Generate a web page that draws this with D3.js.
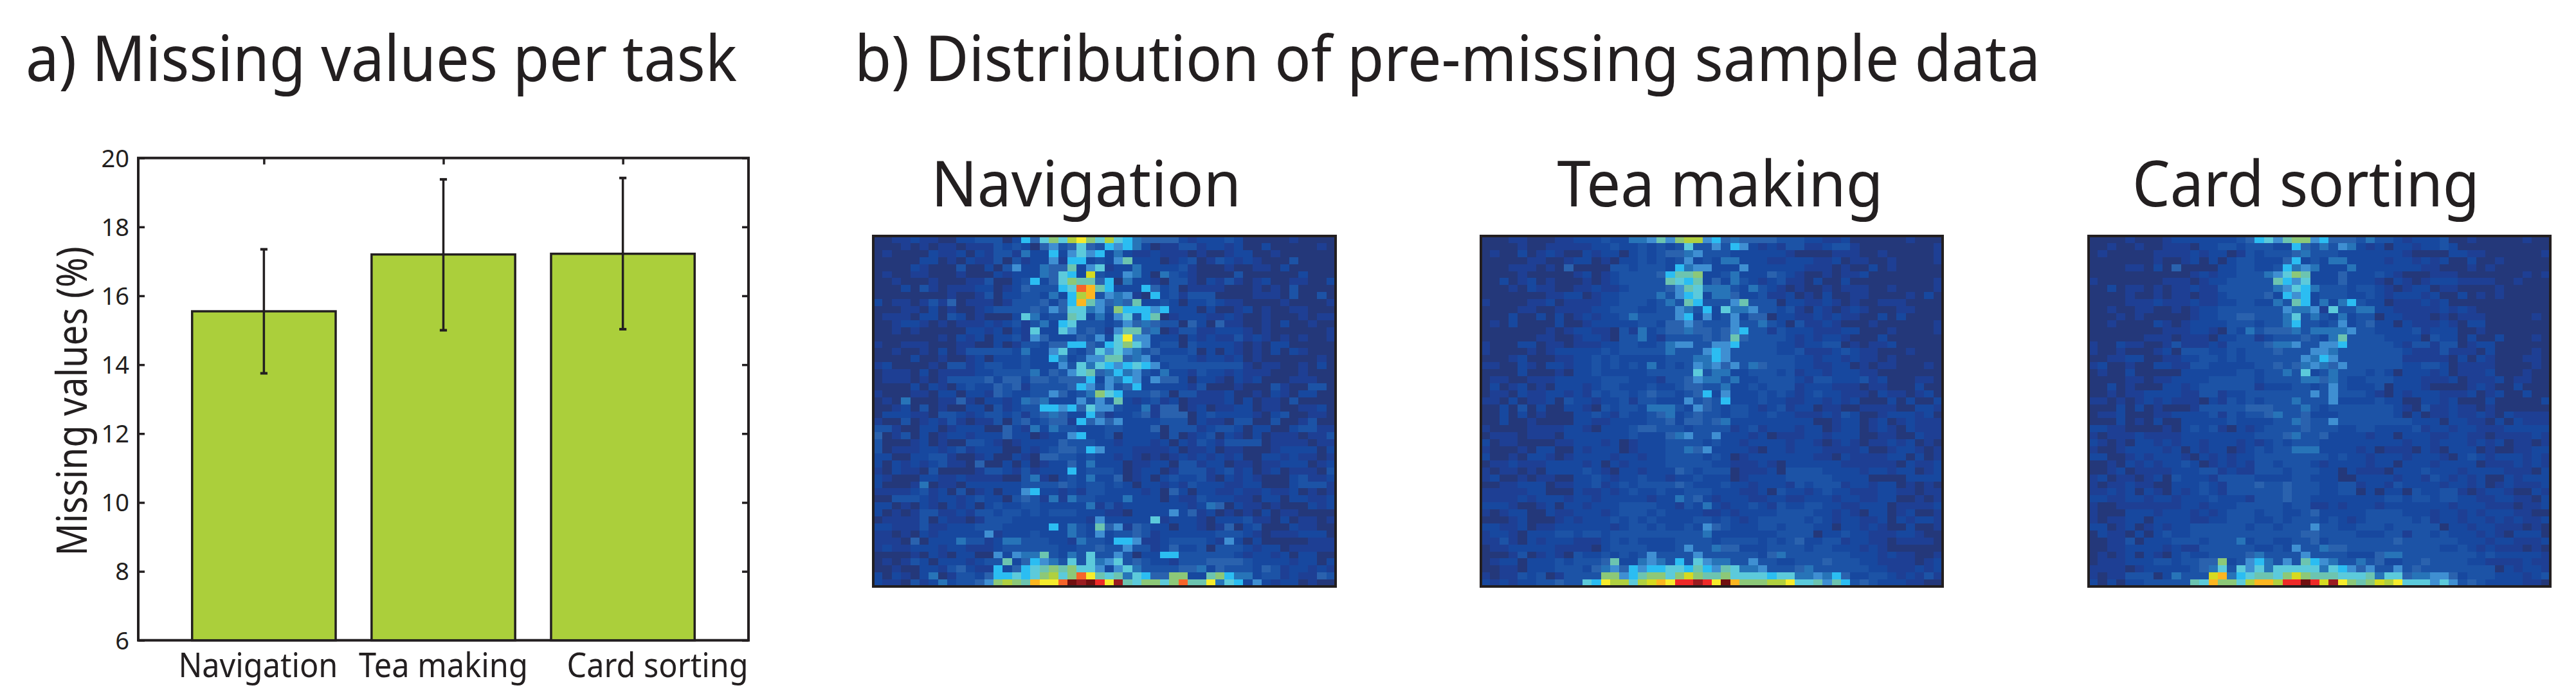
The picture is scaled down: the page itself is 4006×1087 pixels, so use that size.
<!DOCTYPE html>
<html><head><meta charset="utf-8">
<script src="https://cdnjs.cloudflare.com/ajax/libs/d3/7.8.5/d3.min.js"></script>
<style>html,body{margin:0;padding:0;background:#fff}svg{display:block}text{font-family:"Noto Sans","Open Sans",sans-serif;fill:#231f20}</style>
</head><body><svg id="c" width="4006" height="1087"></svg>
<script>
const tasks = ["Navigation","Tea making","Card sorting"];
const missingPct = [15.55,17.2,17.22];
const errLow = [13.75,15.0,15.03];
const errHigh = [17.35,19.38,19.42];
const yTicks = [6,8,10,12,14,16,18,20];
const heatLevels = "0123456789abcdefghi".split("");
const heatColors = ["#24387a","#1e3f94","#17489f","#1c53a6","#2a62ae","#2774b8","#3f8fd2","#2bbdf2","#5ccadb","#6cc4b0","#8cc878","#b0d040","#d6da20","#f6ec2c","#fcb620","#f6642a","#ee2a28","#9a1c20","#701010"];
const navigationGrid = [
"0011211002 233302748a 8bda8b8754 4442122232 0000010000",
"0001010110 1113232046 3484376752 0113312212 0020000010",
"0100002112 0213315227 2686725211 2111010012 2001000000",
"0000022010 2113031226 1772326922 2012301321 2100030000",
"0000210003 0020362254 4926812252 2223100010 0110200000",
"0100110001 0002122254 872c322652 0532100003 0000002000",
"0010001000 1130023724 8a99470522 1033102131 0120011002",
"0002031011 1220124333 78fe972227 4230111100 0101030000",
"0000000010 0130223325 27be365610 7231333000 0111030030",
"2011013140 1110133342 47e9645492 2320223211 0000100001",
"0001102010 0123333436 4885 63a777 6722202001 2010011000",
"0111022032 0100028523 3982526837 9012221121 0010001011",
"0012210101 1121231352 7833323645 4330420411 0010200100",
"0010100000 2212021822 8634316994 5013311222 1010000001",
"0000000102 1202231642 2243628d66 2220212113 1210101001",
"1001110001 1002013324 4774378a86 2330322221 0102200000",
"0010010201 3333325226 8324868653 4222302021 0102021000",
"0000200100 1202223227 5236699456 2333212212 0100000010",
"1200001033 1233223222 6385876787 6233333333 1011001020",
"0111020111 1223333524 3689457563 2522132212 1110001000",
"0111010133 3342442443 4447265762 6442022102 1200011100",
"0000202102 3224341333 3476363472 2222130001 0003100330",
"1000110220 2214322336 4235a87333 4303311120 0102102200",
"0105000114 1022125452 2263639212 3120111120 2011030000",
"0012030100 2203123377 6748663225 1440120112 2011001120",
"0222110332 1233231345 4227412234 1444023222 2102300110",
"1003012131 0113034234 4174646222 2333021103 3003001300",
"3310022012 2200421525 3322233222 4033312332 0220023311",
"4013020122 1222422012 2672230222 2030123021 0201110113",
"3000120100 3321012222 4333221222 1202132133 3301111011",
"3011122123 1222002123 4437622211 1120112011 0001222202",
"2200223310 0120021044 3323221210 1012121212 0022121101",
"2021212311 0400202012 2425222011 2203312201 1011222012",
"1021103000 0133213122 2723332012 2013331231 2012011103",
"2100022112 1111003510 2325224012 0232231021 2100023112",
"2000150110 2222223333 4323323202 2121322211 2200023331",
"1111231203 0120226722 1213322221 2042022112 1121120101",
"0033321221 2322034315 1533222522 2021132221 1022022112",
"2201021021 2023223322 2225131222 2222125402 1101000212",
"2010133112 1332332323 3322211022 2262412010 1020110000",
"0111130211 0133322222 2221622222 8122210222 3110201101",
"2211131122 2333222227 2532946143 2202210140 2300021100",
"1101021222 2261222322 2532623343 1222222333 2101112220",
"1110402225 3312553332 2153327761 1233332162 0200000111",
"1211222122 1112333333 2233433633 1242230333 2122011111",
"0000102102 2006265593 2538336302 2773333332 1221202200",
"0101320222 1233924765 3838568343 2213334444 3222212202",
"0010022134 211724789a 9a88626853 3334452433 3243122121",
"2021025013 32477878ab 8afd989587 44aa229a75 5233121143",
"2110312523 346aba9edd fihigdh98a a8af99d587 2621220100"];
const teaMakingGrid = [
"0001100011 2223225569 6abb674544 4433322112 0000001000",
"0000100111 1122322323 2383363762 1213311233 1000000001",
"0100201210 0212202323 4456333222 2221000011 1001000001",
"0000011001 2201022323 2362325522 2112221120 1100100001",
"0001110104 0000332333 2756622262 2222211101 0020100000",
"0000100000 1201233334 799a223522 2432100101 1200000000",
"0020120100 0101233333 9879242532 1231102002 0000000001",
"0001021100 1121123333 4698555325 3210100101 1100100001",
"0000000112 2012233335 3678255422 3112010200 1100001020",
"1000011201 1112233323 5397333693 3302211210 1001110000",
"0000110011 1122333223 3653728556 3323102101 2100011000",
"0002002020 1212235333 3672623624 4022112121 1002020000",
"0102000020 0122222332 4464333633 5320311210 0010000001",
"0000000101 2211031523 4454434673 3132221112 2000100001",
"0000001100 1221033521 3333434943 3332121221 0002000000",
"1000220110 1112233223 5663366733 3322122330 1011200000",
"1000010122 2223233333 5333676333 3322311123 2110001000",
"0001200011 2232322222 3335576333 3333221221 2110100000",
"1100210221 2232323252 3236564635 4333221122 0101100010",
"0000200010 2232222233 3338355223 3323122122 2110000000",
"0110011122 2223332221 3346553522 3333213322 2312000110",
"0201201022 2123322232 2344335223 2333122211 1011000200",
"0110211221 2132332343 3234726222 3232123221 1102110120",
"1102011203 2212231332 2263437222 3221122121 2000202002",
"0020302002 2103233255 5326432332 1231220110 0111100221",
"0020201000 2232132234 5234332332 2322111213 2001222120",
"0020010000 2211222233 4244345222 2222220012 2012012111",
"1000011112 2102223443 3323333123 1222122012 2012102111",
"0111011102 2222223222 4563362221 2011122122 2001100211",
"2011000011 2221201222 3333232212 2221221012 1011212010",
"1000102200 2122201222 3354622221 0221222111 1200122101",
"2001022101 2222122122 3333232012 2222221102 1111220201",
"0112111222 2120212222 3333322111 2102222221 1111102112",
"1011010222 2321022122 2432333011 1203333222 2122122012",
"1200101100 2232122322 1223222012 2223333322 2200002222",
"0011222011 2231232333 3432223221 2221323331 2212201010",
"1111122000 2112123223 2233322211 2032212322 1112211011",
"1111212221 2212222212 2534212221 1221122212 2112200101",
"2221001202 2122233332 2132521223 2132233221 1222011112",
"1012200211 2221233323 2222112122 2233332212 1022012001",
"0001200012 1222323232 2223323212 3333323212 2112021221",
"2211201122 2222123323 2232643222 3323332202 2121002001",
"1221022233 2332333333 3333522222 2233330223 2211122100",
"1131021222 1112323222 2333323333 2323422331 2211011110",
"0112222211 1102333322 2363354422 2333323322 2121000000",
"0001301210 3223232363 3336333333 2453333333 2221211001",
"0122022232 3334922565 3738655336 3322333433 3221111012",
"0011022233 3245647677 8879769855 6333453333 3322111212",
"1011323013 333aa679aa 8aca99a888 8788556574 2233212131",
"2121223343 387dbb8bce dgghgdieaa abbd889697 3432221100"];
const cardSortingGrid = [
"0000100012 2222223478 69aa674443 5332122230 0100000100",
"0010010011 1022332333 2274353652 1202212232 0000000000",
"0100000111 1212201323 3345333222 2222100002 2110000001",
"0000000100 1202023322 2472325522 2212212120 0200100000",
"0000110204 0000223322 3756522252 2222221100 0101000000",
"0000000000 0121223335 68a9222422 2321000111 0000000101",
"1000000011 1012233333 9768222422 2102101222 1111001000",
"0020110101 1211333333 5687533323 3210122011 0000100000",
"0000100101 1011233334 2767233322 3212221200 2010100000",
"0000111211 1211223322 5397252573 2201112120 0000000000",
"0010011001 0122333333 3655618335 5221111121 2100000000",
"0001010000 0122334433 3583532523 3022111010 1110000010",
"0010000210 1222233323 3573323623 4220211121 0220000000",
"0000000011 1221032534 4453555563 3222231222 0010000000",
"0000001110 1110223312 3334325933 3322220322 0200200010",
"1002110013 1112133334 5563366733 3332133133 0122000000",
"1001000120 3332232333 4333665333 3333211131 1102000010",
"0011220011 2233232333 3336576333 3333111110 2021000110",
"1200100221 1332222233 4345654633 3333223320 1111000010",
"0100200000 2222223323 3538235333 2320222120 1112000100",
"0000110112 2223333323 3335545322 3332221112 0111201100",
"0020100022 1233333312 2233236322 2302221000 0121002000",
"0010112222 1133122333 3333636333 2102122211 1201200200",
"1101012121 1102132323 3353336222 2322002212 0002000002",
"0002020100 0133333444 3335323333 3332103112 1101000000",
"0112000112 2223132334 5334222333 3332020112 1121021111",
"0002010200 2222232222 3354336333 3333322202 2110202111",
"2211000010 2323102123 3334333223 3222231221 2211122222",
"1011121111 2222222233 3453342222 1220222112 2110111121",
"2101022121 2212221212 3233322222 2222122122 2121201101",
"1001222212 0212201232 3355522221 2011102102 2201001122",
"2200121222 1021212233 3333332322 1222122210 2321222121",
"0010212122 3201212133 2333212222 1220222122 2201112121",
"0012011112 2233121133 3233322021 1102223222 1222211102",
"1201101203 2221333322 2233222002 2221221321 2120021222",
"1011211002 2232133343 3433322331 2213222212 2120121112",
"1121202102 1232133333 3433322330 2022032233 1012210021",
"2211221221 2223222133 3433222222 2233233233 2211221102",
"1001111111 2212223333 3233112122 2122222221 2221110112",
"1000222122 2121233323 3223422222 3333222122 1212221100",
"1011220222 2112233322 3233323212 3333323122 1221212112",
"2201201212 2333333233 2333633223 3323333302 2122111010",
"0211020232 2333333333 3334433332 2233133232 2212102220",
"0011302223 3323335233 2233423333 3334333333 2221221112",
"0011222212 1133333322 3263354433 3333333322 3212111010",
"0101202102 3223333453 3336333322 2455333333 3323222221",
"0111222332 3344a23675 3639765335 3422334333 3221111211",
"1111012222 2345838685 8888858764 6336343333 3333021221",
"1011333025 333ce57899 8aca999888 9588455664 2333222123",
"2020223333 398eaa8bee bggigchda9 acbd888686 3432222110"];

const svg = d3.select("#c");
const ink = "#231f20";
function label(x,y,str,size,len,anchor="start",rot=0){
  const t = svg.append("text").attr("font-size",size).attr("text-anchor",anchor)
    .attr("textLength",len).attr("lengthAdjust","spacingAndGlyphs").text(str);
  t.attr("transform",`translate(${x},${y}) rotate(${rot})`);
  return t;
}
// panel a
const plot = {l:215,r:1164,t:245.7,b:995.7};
const x = d3.scaleLinear().domain([0.3,3.7]).range([plot.l,plot.r]);
const y = d3.scaleLinear().domain([6,20]).range([plot.b,plot.t]);
label(40,126,"a) Missing values per task",98,1106);
const g = svg.append("g");
g.append("rect").attr("x",plot.l).attr("y",plot.t).attr("width",plot.r-plot.l).attr("height",plot.b-plot.t)
  .attr("fill","none").attr("stroke",ink).attr("stroke-width",4);
const yAxisL = d3.axisLeft(y).tickValues(yTicks).tickSize(-10).tickPadding(14).tickFormat(d3.format("d"));
const yg = g.append("g").attr("transform",`translate(${plot.l},0)`).call(yAxisL);
yg.select(".domain").remove();
yg.selectAll("line").attr("stroke",ink).attr("stroke-width",3.5);
yg.selectAll("text").attr("font-size",38).attr("dy","0.35em").style("font-family",'"Noto Sans"').attr("fill",ink);
const yr = g.append("g").attr("transform",`translate(${plot.r},0)`).call(d3.axisRight(y).tickValues(yTicks).tickSize(-10).tickFormat(""));
yr.select(".domain").remove(); yr.selectAll("line").attr("stroke",ink).attr("stroke-width",3.5);
const xt = g.append("g").attr("transform",`translate(0,${plot.t})`).call(d3.axisTop(x).tickValues([1,2,3]).tickSize(-10).tickFormat(""));
xt.select(".domain").remove(); xt.selectAll("line").attr("stroke",ink).attr("stroke-width",3.5);
g.selectAll("rect.bar").data(missingPct).join("rect").attr("class","bar")
  .attr("x",(d,i)=>x(i+1-0.4)).attr("width",x(1.8)-x(1))
  .attr("y",d=>y(d)).attr("height",d=>y(6)-y(d))
  .attr("fill","#abcf3b").attr("stroke",ink).attr("stroke-width",3.5);
const capW = x(1.02)-x(1);
missingPct.forEach((d,i)=>{
  const cx = x(i+1);
  g.append("line").attr("x1",cx).attr("x2",cx).attr("y1",y(errLow[i])).attr("y2",y(errHigh[i])).attr("stroke",ink).attr("stroke-width",3.5);
  [errLow[i],errHigh[i]].forEach(v=>g.append("line").attr("x1",cx-capW).attr("x2",cx+capW).attr("y1",y(v)).attr("y2",y(v)).attr("stroke",ink).attr("stroke-width",4));
});
const tickDx = [-9,0,54], tickLen = [248,263,282];
tasks.forEach((t,i)=>label(x(i+1)+tickDx[i],1053,t,52,tickLen[i],"middle"));
label(135,624,"Missing values (%)",66,481,"middle",-90);
// panel b
label(1329,126,"b) Distribution of pre-missing sample data",98,1844);
const grids = [navigationGrid,teaMakingGrid,cardSortingGrid];
const panelX = [[1358,2077],[2303,3021],[3248,3966]];
const titleW = [482,507,540], titleC = [1689,2675,3586];
const hy = [367,912];
const color = d3.scaleOrdinal(heatLevels,heatColors);
grids.forEach((grid,k)=>{
  const rows = grid.map(r=>r.replace(/\s/g,"").split(""));
  const cx = d3.scaleBand().domain(d3.range(50)).range(panelX[k]);
  const cy = d3.scaleBand().domain(d3.range(50)).range(hy);
  const p = svg.append("g").attr("shape-rendering","crispEdges");
  rows.forEach((row,ri)=>{
    p.selectAll(null).data(row).join("rect")
      .attr("x",(d,i)=>cx(i)).attr("y",cy(ri))
      .attr("width",cx.bandwidth()+0.6).attr("height",cy.bandwidth()+0.6)
      .attr("fill",d=>color(d));
  });
  svg.append("rect").attr("x",panelX[k][0]).attr("y",hy[0]).attr("width",panelX[k][1]-panelX[k][0]).attr("height",hy[1]-hy[0])
    .attr("fill","none").attr("stroke",ink).attr("stroke-width",4);
  label(titleC[k],321,tasks[k],98,titleW[k],"middle");
});
</script></body></html>
